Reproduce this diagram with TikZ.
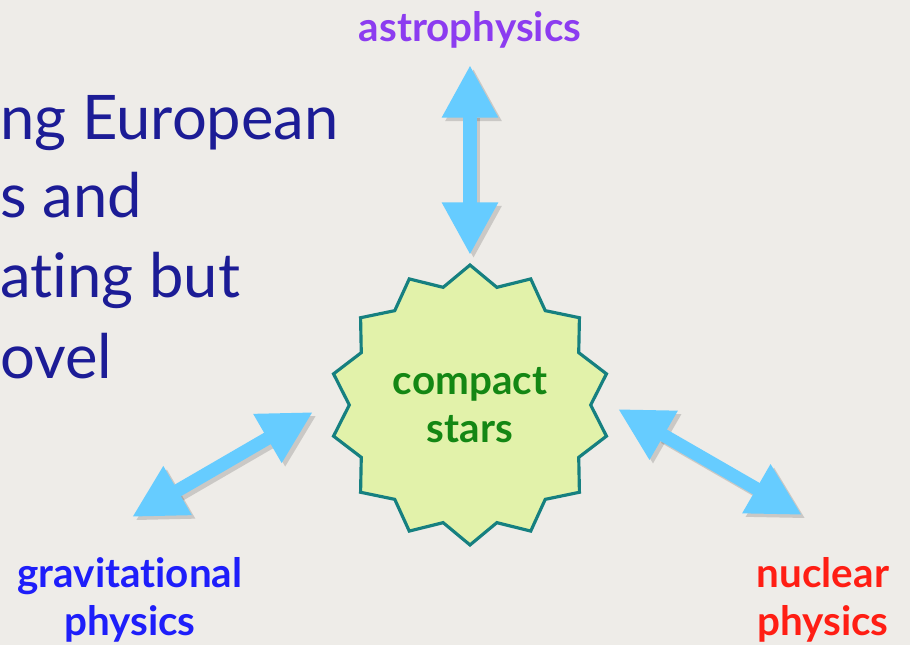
\documentclass[tikz,border=0pt]{standalone}
\usepackage{fontspec}
\setmainfont[Ligatures=NoCommon]{Lato}
\usepackage{tikz}
\usetikzlibrary{arrows.meta, positioning, shapes.geometric}
\usepackage{xcolor}

\definecolor{paper}{RGB}{238,236,232}
\definecolor{slidetext}{RGB}{28,28,150}
\definecolor{arrowblue}{RGB}{102,204,255}
\definecolor{starfill}{RGB}{226,242,170}
\definecolor{staredge}{RGB}{22,128,128}
\definecolor{stargreen}{RGB}{20,135,20}
\definecolor{astroviolet}{RGB}{140,60,240}
\definecolor{gravblue}{RGB}{30,30,250}
\definecolor{nuclred}{RGB}{255,30,20}

\tikzset{
  link/.style={arrowblue, line width=7.5pt,
    {Triangle[width=30pt,length=30pt]}-{Triangle[width=30pt,length=30pt]}},
  linkshadow/.style={link, black, opacity=0.15},
  field/.style={font=\fontsize{23}{27}\selectfont\bfseries, align=center, inner sep=0pt},
  bodyline/.style={slidetext, font=\fontsize{35}{42}\selectfont, anchor=base west, inner sep=0pt}
}

\begin{document}
\begin{tikzpicture}[x=0.02cm, y=-0.02cm]
      \fill[paper] (0,0) rectangle (910,645);
      \useasboundingbox (0,0) rectangle (910,645);

      % slide text, cut off at the left edge
      \node[bodyline] (line1) at (0,140) {ng European};
      \node[bodyline] (line2) at (0,218) {s and};
      \node[bodyline] (line3) at (0,298) {ating but};
      \node[bodyline] (line4) at (0,378) {ovel};

      % the star in the middle
      \node[star, star points=14, star point ratio=1.16, minimum size=5.6cm,
        draw=staredge, fill=starfill, line width=1.8pt, text=stargreen, field]
        (core) at (470,405) {compact\\stars};

      % the three fields
      \node[field, text=astroviolet] (astro) at (470,30) {astrophysics};
      \node[field, text=gravblue] (grav) at (130,600) {gravitational\\physics};
      \node[field, text=nuclred] (nucl) at (823,600) {nuclear\\physics};

      \coordinate (astroIn) at (470,255);
      \coordinate (astroOut) at (470,65);
      \coordinate (gravIn) at (313,412);
      \coordinate (gravOut) at (132,517);
      \coordinate (nuclIn) at (618,409);
      \coordinate (nuclOut) at (802,515);

      % double arrows with a soft shadow
      \foreach \a/\b in {astroIn/astroOut, gravIn/gravOut, nuclIn/nuclOut} {
        \draw[linkshadow, transform canvas={shift={(2pt,-2pt)}}] (\a) -- (\b);
        \draw[link] (\a) -- (\b);
      }
    \end{tikzpicture}
\end{document}
